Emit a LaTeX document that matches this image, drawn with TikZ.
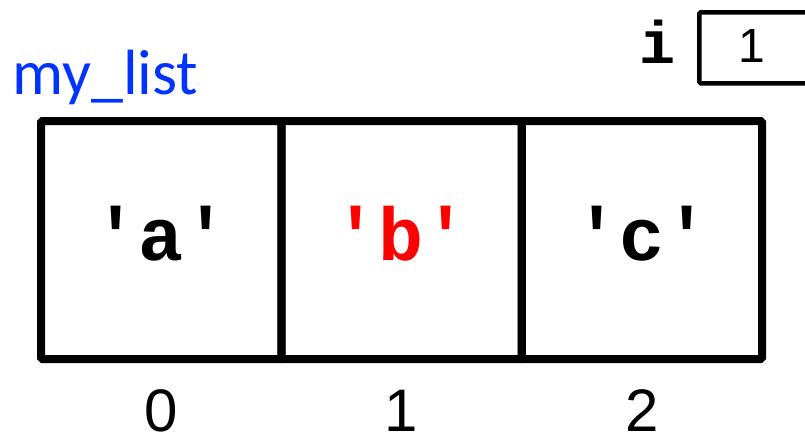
\documentclass[tikz,border=0pt]{standalone}
\usepackage{fontspec}
\setmainfont{Liberation Sans}
\setmonofont{Liberation Mono}
\newfontfamily\calib{Carlito}
\definecolor{listblue}{RGB}{0,51,255}
\definecolor{valred}{RGB}{255,0,0}
\begin{document}
\begin{tikzpicture}[x=1pt,y=-1pt,
  cell/.style={draw, line width=8pt, minimum width=240.5pt, minimum height=238pt, inner sep=0pt, rounded corners=1.5pt},
  val/.style={font=\ttfamily\bfseries\fontsize{75}{75}\selectfont, anchor=base, inner sep=0pt},
  idx/.style={font=\fontsize{60}{60}\selectfont, anchor=base, inner sep=0pt, text depth=0pt},
  varbox/.style={draw, line width=4.5pt, minimum width=150pt, minimum height=71pt, inner sep=0pt, rounded corners=1.5pt},
]
\useasboundingbox (0,0) rectangle (805,437);
% cells
\node[cell] (c0) at (161.25,240) {};
\node[cell] (c1) at (401.5,240) {};
\node[cell] (c2) at (641.75,240) {};
% values
\node[val] (v0) at (161.25,260) {'a'};
\node[val, text=valred] (v1) at (401.5,260) {'b'};
\node[val] (v2) at (641.75,260) {'c'};
% indices
\node[idx] (i0) at (161.25,431) {0};
\node[idx] (i1) at (401.5,431) {1};
\node[idx] (i2) at (641.75,431) {2};
% list name
\node[font=\calib\fontsize{64}{64}\selectfont, text=listblue, anchor=base west, inner sep=0pt] (name) at (12,94) {my\_list};
% variable i
\node[varbox, anchor=north west] (ibox) at (697,10) {};
\node[font=\fontsize{48}{48}\selectfont, anchor=base, inner sep=0pt] (ival) at (752,62) {1};
\node[font=\ttfamily\bfseries\fontsize{60}{60}\selectfont, anchor=base, inner sep=0pt] (ilabel) at (657,63) {i};
\end{tikzpicture}
\end{document}
